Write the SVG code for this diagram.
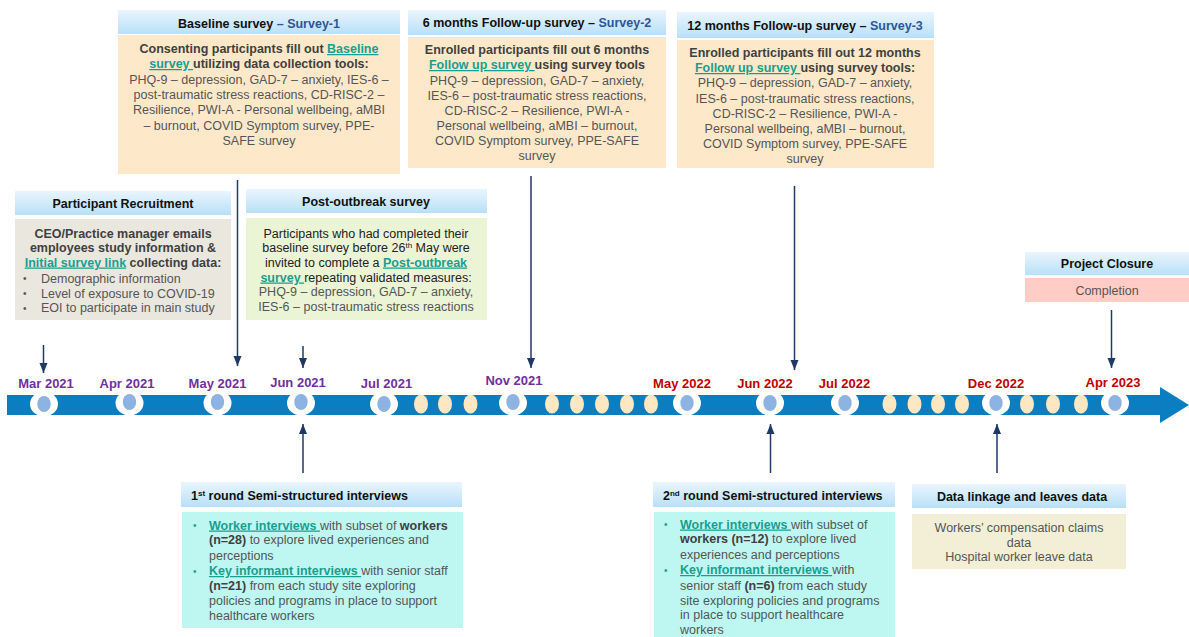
<svg xmlns="http://www.w3.org/2000/svg" width="1189" height="637" viewBox="0 0 1189 637">
<defs>
<linearGradient id="hg" x1="0" y1="0" x2="0" y2="1">
<stop offset="0" stop-color="#EAF5FD"/>
<stop offset="1" stop-color="#B8E0F8"/>
</linearGradient>
<marker id="ah" markerUnits="userSpaceOnUse" markerWidth="10" markerHeight="10" viewBox="0 0 10 10" refX="10" refY="5" orient="auto">
<path d="M0,1 L10,5 L0,9 Z" fill="#1F3864"/>
</marker>
<style>
text{font-family:"Liberation Sans",Arial,sans-serif;font-size:12.5px}
.hd{fill:url(#hg)}
.h{font-weight:bold;fill:#111}
.bl{fill:#2F5597}
.b{font-weight:bold;fill:#404040}
.r{fill:#555}
.d{fill:#222}
.lk{font-weight:bold;fill:#1A9E8F;text-decoration:underline}
.c{text-anchor:middle}
.m{font-size:13px;font-weight:bold;text-anchor:middle}
.mp{fill:#7030A0}
.mr{fill:#C00000}
.bul{fill:#555;font-size:10px}
.bt{fill:#1A9E8F;font-size:10px}
.conn{stroke:#1F3864;stroke-width:1.5;fill:none;marker-end:url(#ah)}
.ring{fill:#fff}
.bo{fill:#8DB3E2}
.yo{fill:#FEE8C2}
</style>
</defs>

<g id="timeline">
<rect x="7" y="395" width="1155" height="20" fill="#0B7EC2"/>
<path d="M1160,387 L1189,405 L1160,423 Z" fill="#0B7EC2"/>
<g id="ovals-main">
<ellipse class="ring" cx="44" cy="404" rx="14" ry="12.5"/><ellipse class="bo" cx="44" cy="404" rx="6.7" ry="8"/>
<ellipse class="ring" cx="129.5" cy="403" rx="14" ry="12.5"/><ellipse class="bo" cx="129.5" cy="402" rx="6.7" ry="8"/>
<ellipse class="ring" cx="217.5" cy="403" rx="14" ry="12.5"/><ellipse class="bo" cx="217.5" cy="402" rx="6.7" ry="8"/>
<ellipse class="ring" cx="301" cy="403" rx="14" ry="12.5"/><ellipse class="bo" cx="301" cy="402" rx="6.7" ry="8"/>
<ellipse class="ring" cx="384" cy="404" rx="14" ry="12.5"/><ellipse class="bo" cx="384" cy="404" rx="6.7" ry="8"/>
<ellipse class="ring" cx="513" cy="403" rx="14" ry="12.5"/><ellipse class="bo" cx="513" cy="402" rx="6.7" ry="8"/>
<ellipse class="ring" cx="687" cy="403" rx="14" ry="12.5"/><ellipse class="bo" cx="687" cy="403" rx="6.7" ry="8"/>
<ellipse class="ring" cx="770" cy="403" rx="14" ry="12.5"/><ellipse class="bo" cx="770" cy="403" rx="6.7" ry="8"/>
<ellipse class="ring" cx="845" cy="403" rx="14" ry="12.5"/><ellipse class="bo" cx="845" cy="403" rx="6.7" ry="8"/>
<ellipse class="ring" cx="996" cy="403" rx="14" ry="12.5"/><ellipse class="bo" cx="996" cy="403" rx="6.7" ry="8"/>
<ellipse class="ring" cx="1115" cy="403" rx="14" ry="12.5"/><ellipse class="bo" cx="1115" cy="403" rx="6.7" ry="8"/>
</g>
<g id="ovals-minor">
<ellipse class="yo" cx="421" cy="404" rx="7" ry="9.5"/>
<ellipse class="yo" cx="445" cy="404" rx="7" ry="9.5"/>
<ellipse class="yo" cx="470.5" cy="404" rx="7" ry="9.5"/>
<ellipse class="yo" cx="552" cy="404" rx="7" ry="9.5"/>
<ellipse class="yo" cx="577" cy="404" rx="7" ry="9.5"/>
<ellipse class="yo" cx="602" cy="404" rx="7" ry="9.5"/>
<ellipse class="yo" cx="627" cy="404" rx="7" ry="9.5"/>
<ellipse class="yo" cx="651" cy="404" rx="7" ry="9.5"/>
<ellipse class="yo" cx="889.5" cy="404" rx="7" ry="9.5"/>
<ellipse class="yo" cx="914.5" cy="404" rx="7" ry="9.5"/>
<ellipse class="yo" cx="938" cy="404" rx="7" ry="9.5"/>
<ellipse class="yo" cx="962" cy="404" rx="7" ry="9.5"/>
<ellipse class="yo" cx="1027" cy="404" rx="7" ry="9.5"/>
<ellipse class="yo" cx="1053" cy="404" rx="7" ry="9.5"/>
<ellipse class="yo" cx="1081" cy="404" rx="7" ry="9.5"/>
</g>
<g id="month-labels">
<text class="m mp" x="46" y="388">Mar 2021</text>
<text class="m mp" x="127" y="388">Apr 2021</text>
<text class="m mp" x="217.5" y="388">May 2021</text>
<text class="m mp" x="298" y="387">Jun 2021</text>
<text class="m mp" x="386.5" y="388">Jul 2021</text>
<text class="m mp" x="514" y="385">Nov 2021</text>
<text class="m mr" x="682" y="388">May 2022</text>
<text class="m mr" x="765" y="388">Jun 2022</text>
<text class="m mr" x="844.5" y="388">Jul 2022</text>
<text class="m mr" x="996" y="388">Dec 2022</text>
<text class="m mr" x="1113" y="387">Apr 2023</text>
</g>
</g>

<g id="connectors">
<line class="conn" x1="43.5" y1="345" x2="43.5" y2="373"/>
<line class="conn" x1="237.5" y1="180" x2="237.5" y2="366"/>
<line class="conn" x1="303" y1="346" x2="303" y2="368"/>
<line class="conn" x1="531" y1="176" x2="531" y2="368"/>
<line class="conn" x1="794.5" y1="186" x2="794.5" y2="370"/>
<line class="conn" x1="1111.5" y1="310" x2="1111.5" y2="368"/>
<line class="conn" x1="303" y1="473" x2="303" y2="424"/>
<line class="conn" x1="770.5" y1="473" x2="770.5" y2="424"/>
<line class="conn" x1="997" y1="473" x2="997" y2="424"/>
</g>

<g id="recruitment">
<rect class="hd" x="15" y="191" width="216" height="24"/>
<text class="h c" x="123" y="207.5">Participant Recruitment</text>
<rect x="15" y="219" width="216" height="101" fill="#EAE7DF"/>
<text class="b c" x="123" y="237.5">CEO/Practice manager emails</text>
<text class="b c" x="123" y="252">employees study information &amp;</text>
<text class="b c" x="123" y="266.5"><tspan class="lk">Initial survey link</tspan> collecting data:</text>
<text class="bul" x="23" y="282">•</text><text class="r" x="41" y="282.5">Demographic information</text>
<text class="bul" x="23" y="297">•</text><text class="r" x="41" y="297.5">Level of exposure to COVID-19</text>
<text class="bul" x="23" y="311.5">•</text><text class="r" x="41" y="312">EOI to participate in main study</text>
</g>

<g id="baseline">
<rect class="hd" x="118" y="10" width="282" height="24"/>
<text class="h c" x="259" y="27.5">Baseline survey <tspan class="bl">– Survey-1</tspan></text>
<rect x="118" y="35" width="282" height="139" fill="#FDE9CA"/>
<text class="b c" x="259" y="53">Consenting participants fill out <tspan class="lk">Baseline</tspan></text>
<text class="b c" x="259" y="68"><tspan class="lk">survey </tspan>utilizing data collection tools:</text>
<text class="r c" x="259" y="83.5">PHQ-9 – depression, GAD-7 – anxiety, IES-6 –</text>
<text class="r c" x="259" y="99">post-traumatic stress reactions, CD-RISC-2 –</text>
<text class="r c" x="259" y="114">Resilience, PWI-A - Personal wellbeing, aMBI</text>
<text class="r c" x="259" y="129.5">– burnout, COVID Symptom survey, PPE-</text>
<text class="r c" x="259" y="144.5">SAFE survey</text>
</g>

<g id="post-outbreak">
<rect class="hd" x="246" y="189" width="241" height="24"/>
<text class="h c" x="366" y="206">Post-outbreak survey</text>
<rect x="246" y="218" width="241" height="102" fill="#EBF5D5"/>
<text class="d c" x="366" y="237.5">Participants who had completed their</text>
<text class="d c" x="366" y="252">baseline survey before 26<tspan font-size="8" dy="-4.5">th</tspan><tspan dy="4.5"> May were</tspan></text>
<text class="d c" x="366" y="266.5">invited to complete a <tspan class="lk">Post-outbreak</tspan></text>
<text class="d c" x="366" y="281.5"><tspan class="lk">survey </tspan>repeating validated measures:</text>
<text class="r c" x="366" y="296">PHQ-9 – depression, GAD-7 – anxiety,</text>
<text class="r c" x="366" y="311">IES-6 – post-traumatic stress reactions</text>
</g>

<g id="followup-6">
<rect class="hd" x="408" y="10" width="258" height="25"/>
<text class="h c" x="537" y="27">6 months Follow-up survey – <tspan class="bl">Survey-2</tspan></text>
<rect x="408" y="37" width="258" height="131" fill="#FDE9CA"/>
<text class="b c" x="537" y="54">Enrolled participants fill out 6 months</text>
<text class="b c" x="537" y="69"><tspan class="lk">Follow up survey </tspan>using survey tools</text>
<text class="r c" x="537" y="84.5">PHQ-9 – depression, GAD-7 – anxiety,</text>
<text class="r c" x="537" y="100">IES-6 – post-traumatic stress reactions,</text>
<text class="r c" x="537" y="114.5">CD-RISC-2 – Resilience, PWI-A -</text>
<text class="r c" x="537" y="130">Personal wellbeing, aMBI – burnout,</text>
<text class="r c" x="537" y="145">COVID Symptom survey, PPE-SAFE</text>
<text class="r c" x="537" y="159.5">survey</text>
</g>

<g id="followup-12">
<rect class="hd" x="677" y="12" width="257" height="26"/>
<text class="h c" x="805" y="29.5">12 months Follow-up survey – <tspan class="bl">Survey-3</tspan></text>
<rect x="677" y="40" width="257" height="128" fill="#FDE9CA"/>
<text class="b c" x="805" y="57">Enrolled participants fill out 12 months</text>
<text class="b c" x="805" y="72"><tspan class="lk">Follow up survey </tspan>using survey tools:</text>
<text class="r c" x="805" y="87">PHQ-9 – depression, GAD-7 – anxiety,</text>
<text class="r c" x="805" y="102.5">IES-6 – post-traumatic stress reactions,</text>
<text class="r c" x="805" y="118">CD-RISC-2 – Resilience, PWI-A -</text>
<text class="r c" x="805" y="133">Personal wellbeing, aMBI – burnout,</text>
<text class="r c" x="805" y="148">COVID Symptom survey, PPE-SAFE</text>
<text class="r c" x="805" y="163">survey</text>
</g>

<g id="closure">
<rect class="hd" x="1025" y="252" width="164" height="23"/>
<text class="h c" x="1107" y="267.5">Project Closure</text>
<rect x="1025" y="278" width="164" height="24" fill="#FFCCC6"/>
<text class="r c" x="1107" y="294.5">Completion</text>
</g>

<g id="interviews-1">
<rect class="hd" x="181" y="482" width="281" height="25"/>
<text class="h" x="191" y="500">1<tspan font-size="8" dy="-4.5">st</tspan><tspan dy="4.5"> round Semi-structured interviews</tspan></text>
<rect x="182" y="512" width="281" height="116" fill="#BEF7F1"/>
<text class="bt" x="193" y="529">•</text>
<text class="r" x="209" y="529.5"><tspan class="lk">Worker interviews </tspan>with subset of <tspan class="b">workers</tspan></text>
<text class="r" x="209" y="544"><tspan class="b">(n=28)</tspan> to explore lived experiences and</text>
<text class="r" x="209" y="559.5">perceptions</text>
<text class="bt" x="193" y="574.5">•</text>
<text class="r" x="209" y="575"><tspan class="lk">Key informant interviews </tspan>with senior staff</text>
<text class="r" x="209" y="589.5"><tspan class="b">(n=21)</tspan> from each study site exploring</text>
<text class="r" x="209" y="604.5">policies and programs in place to support</text>
<text class="r" x="209" y="619.5">healthcare workers</text>
</g>

<g id="interviews-2">
<rect class="hd" x="653" y="482" width="242" height="25"/>
<text class="h" x="663" y="500">2<tspan font-size="8" dy="-4.5">nd</tspan><tspan dy="4.5"> round Semi-structured interviews</tspan></text>
<rect x="654" y="512" width="241" height="125" fill="#BEF7F1"/>
<text class="bt" x="664" y="528">•</text>
<text class="r" x="680" y="528.5"><tspan class="lk">Worker interviews </tspan>with subset of</text>
<text class="r" x="680" y="543"><tspan class="b">workers (n=12)</tspan> to explore lived</text>
<text class="r" x="680" y="558.5">experiences and perceptions</text>
<text class="bt" x="664" y="573.5">•</text>
<text class="r" x="680" y="574"><tspan class="lk">Key informant interviews </tspan>with</text>
<text class="r" x="680" y="589.5">senior staff <tspan class="b">(n=6)</tspan> from each study</text>
<text class="r" x="680" y="604.5">site exploring policies and programs</text>
<text class="r" x="680" y="619">in place to support healthcare</text>
<text class="r" x="680" y="633.5">workers</text>
</g>

<g id="data-linkage">
<rect class="hd" x="912" y="484" width="214" height="24"/>
<text class="h c" x="1022" y="501">Data linkage and leaves data</text>
<rect x="912" y="514" width="214" height="55" fill="#F2EFD6"/>
<text class="r c" x="1019" y="532">Workers’ compensation claims</text>
<text class="r c" x="1019" y="547">data</text>
<text class="r c" x="1019" y="561">Hospital worker leave data</text>
</g>
</svg>
